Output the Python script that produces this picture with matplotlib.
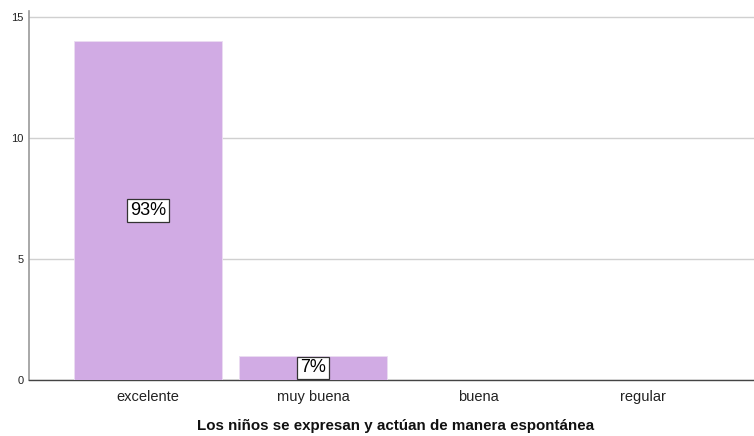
import matplotlib
matplotlib.use("Agg")
import matplotlib.pyplot as plt

categories = ["excelente", "muy buena", "buena", "regular"]
counts = [14, 1, 0, 0]
pct_labels = ["93%", "7%", None, None]
yticks = [0, 5, 10, 15]
xlabel = "Los niños se expresan y actúan de manera espontánea"

plt.rcParams['font.family'] = ['Liberation Sans', 'DejaVu Sans']
fig = plt.figure(figsize=(7.54, 4.36), dpi=100)
ax = fig.add_axes([29/754, 56/436, 1 - 29/754, (436 - 11 - 56)/436])

x = list(range(len(categories)))
ax.bar(x, counts, width=0.897, color="#D1ABE4", edgecolor="#EBDDF2", linewidth=0.6, zorder=3)
for xi, c, lab in zip(x, counts, pct_labels):
    if lab:
        ax.text(xi, c / 2, lab, ha="center", va="center", fontsize=13, zorder=5,
                bbox=dict(boxstyle="square,pad=0.15", fc="white", ec="#333333", lw=0.9))

ax.set_xlim(-0.721, 3.673)
ax.set_ylim(0, 15.25)
ax.set_yticks(yticks)
ax.set_yticklabels([str(v) for v in yticks], fontsize=8, color="#222222")
ax.set_xticks(x)
ax.set_xticklabels(categories, fontsize=10.5, color="#222222")
ax.tick_params(axis="both", length=0)
ax.tick_params(axis="y", pad=4)
ax.tick_params(axis="x", pad=7)
ax.yaxis.grid(True, color="#D0D0D0", linewidth=1, zorder=0)
ax.set_axisbelow(True)
for s in ["top", "right"]:
    ax.spines[s].set_visible(False)
ax.spines["left"].set_color("#9A9A9A")
ax.spines["left"].set_linewidth(1.2)
ax.spines["bottom"].set_color("#444444")
ax.spines["bottom"].set_linewidth(1)
ax.set_xlabel(xlabel, fontsize=10.9, fontweight="bold", color="#111111")
ax.xaxis.set_label_coords((396 - 29) / (754 - 29), -(426 - 380) / (436 - 11 - 56), transform=ax.transAxes)
ax.xaxis.label.set_va("center")

fig.savefig("out.png", dpi=100)
